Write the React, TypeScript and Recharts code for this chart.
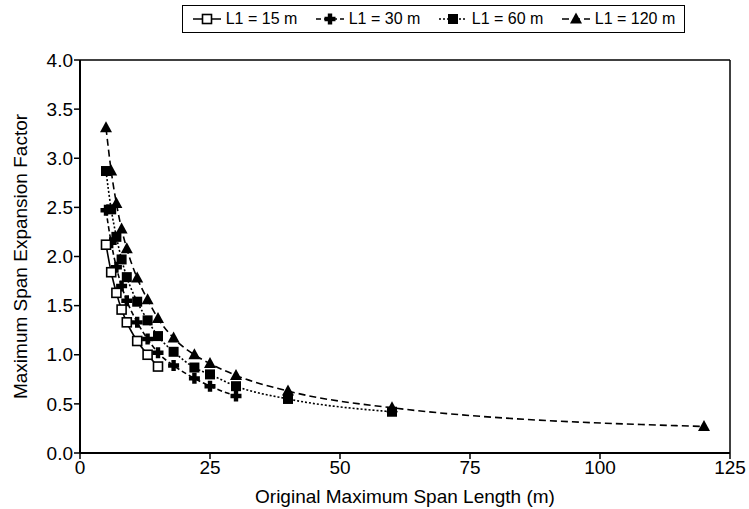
import React from 'react';
import { LineChart, Line, XAxis, YAxis, ReferenceLine } from 'recharts';

// span lengths (m) shared by all series; longer L1 runs further out
const spans = [5, 6, 7, 8, 9, 11, 13, 15, 18, 22, 25, 30, 40, 60, 120];

const l1_15 = [2.12, 1.84, 1.63, 1.46, 1.33, 1.14, 1.0, 0.88];
const l1_30 = [2.47, 2.14, 1.89, 1.7, 1.55, 1.33, 1.16, 1.02, 0.89, 0.76, 0.68, 0.58];
const l1_60 = [2.87, 2.48, 2.2, 1.97, 1.79, 1.54, 1.35, 1.19, 1.03, 0.87, 0.8, 0.68, 0.55, 0.42];
const l1_120 = [3.31, 2.87, 2.54, 2.28, 2.08, 1.78, 1.56, 1.37, 1.17, 1.0, 0.91, 0.79, 0.63, 0.46, 0.27];

const xTicks = [0, 25, 50, 75, 100, 125];
const yTicks = [0, 0.5, 1, 1.5, 2, 2.5, 3, 3.5, 4];

const toRows = (vals: number[]) => vals.map((v, i) => ({ span: spans[i], factor: v }));

const FONT = '"Liberation Sans", Arial, Helvetica, sans-serif';

type Shape = 'openSquare' | 'plus' | 'square' | 'triangle';

const Marker = ({ shape, cx, cy }: { shape: Shape; cx: number; cy: number }) => {
    if (shape === 'openSquare') {
        return <rect x={cx - 4.5} y={cy - 4.5} width={9} height={9} fill="#fff" stroke="#000" strokeWidth={1.6} />;
    }
    if (shape === 'square') {
        return <rect x={cx - 5} y={cy - 5} width={10} height={10} fill="#000" />;
    }
    if (shape === 'plus') {
        const a = 5.5, b = 2.2;
        return (
            <path
                d={`M${cx - b},${cy - a}h${2 * b}v${a - b}h${a - b}v${2 * b}h${b - a}v${a - b}h${-2 * b}v${b - a}h${b - a}v${-2 * b}h${a - b}z`}
                fill="#000"
            />
        );
    }
    return <path d={`M${cx},${cy - 6.5}L${cx + 6},${cy + 4.5}L${cx - 6},${cy + 4.5}z`} fill="#000" />;
};

const dotFor = (shape: Shape) => (props: any) => (
    <Marker key={`${shape}-${props.index}`} shape={shape} cx={props.cx} cy={props.cy} />
);

const series = [
    { name: 'L1 = 15 m', shape: 'openSquare' as Shape, dash: undefined, data: toRows(l1_15) },
    { name: 'L1 = 30 m', shape: 'plus' as Shape, dash: '5 3', data: toRows(l1_30) },
    { name: 'L1 = 60 m', shape: 'square' as Shape, dash: '2 2', data: toRows(l1_60) },
    { name: 'L1 = 120 m', shape: 'triangle' as Shape, dash: '7 4', data: toRows(l1_120) },
];

const LegendBox = () => (
    <div
        style={{
            position: 'absolute', left: 182, top: 5, width: 503, height: 28,
            border: '1.5px solid #000', display: 'flex', alignItems: 'center',
            justifyContent: 'space-around', fontFamily: FONT, fontSize: 16, boxSizing: 'border-box',
        }}
    >
        {series.map((s) => (
            <div key={s.name} style={{ display: 'flex', alignItems: 'center' }}>
                <svg width={30} height={14}>
                    <line x1={1} y1={7} x2={29} y2={7} stroke="#000" strokeWidth={1.5} strokeDasharray={s.dash} />
                    <Marker shape={s.shape} cx={15} cy={7} />
                </svg>
                <span style={{ marginLeft: 4 }}>{s.name}</span>
            </div>
        ))}
    </div>
);

const YTitle = ({ viewBox }: any) => {
    const cy = viewBox.y + viewBox.height / 2;
    return (
        <text x={20} y={cy} transform={`rotate(-90, 20, ${cy})`} textAnchor="middle"
            dominantBaseline="central" fontFamily={FONT} fontSize={19} fill="#000">
            Maximum Span Expansion Factor
        </text>
    );
};

const XTitle = ({ viewBox }: any) => (
    <text x={viewBox.x + viewBox.width / 2} y={503} textAnchor="middle"
        fontFamily={FONT} fontSize={19} fill="#000">
        Original Maximum Span Length (m)
    </text>
);

const tickStyle = { fontFamily: FONT, fontSize: 19, fill: '#000' };

const App: React.FC = () => {
    // draw the open-square series last so its hollow markers sit on top
    const drawOrder = [series[3], series[2], series[1], series[0]];
    return (
        <div style={{ position: 'absolute', left: 0, top: 0, width: 749, height: 509, background: '#fff' }}>
            <LineChart width={749} height={509} margin={{ top: 60, right: 19, bottom: 0, left: 0 }}>
                <XAxis
                    dataKey="span" type="number" domain={[0, 125]} ticks={xTicks}
                    allowDuplicatedCategory={false} height={56}
                    axisLine={{ stroke: '#000', strokeWidth: 2 }} tickLine={{ stroke: '#000', strokeWidth: 1.5 }}
                    tickSize={6} tick={tickStyle} label={<XTitle />}
                />
                <YAxis
                    dataKey="factor" type="number" domain={[0, 4]} ticks={yTicks} width={80}
                    tickFormatter={(v: number) => v.toFixed(1)}
                    axisLine={{ stroke: '#000', strokeWidth: 2 }} tickLine={{ stroke: '#000', strokeWidth: 1.5 }}
                    tickSize={6} tickMargin={1} tick={tickStyle} label={<YTitle />}
                />
                <ReferenceLine y={4} stroke="#000" strokeWidth={1.5} />
                <ReferenceLine x={125} stroke="#000" strokeWidth={1.5} />
                {drawOrder.map((s) => (
                    <Line
                        key={s.name} data={s.data} dataKey="factor" name={s.name} type="monotone"
                        stroke="#000" strokeWidth={1.6} strokeDasharray={s.dash}
                        dot={dotFor(s.shape)} activeDot={false} isAnimationActive={false}
                    />
                ))}
            </LineChart>
            <LegendBox />
        </div>
    );
};

export default App;
